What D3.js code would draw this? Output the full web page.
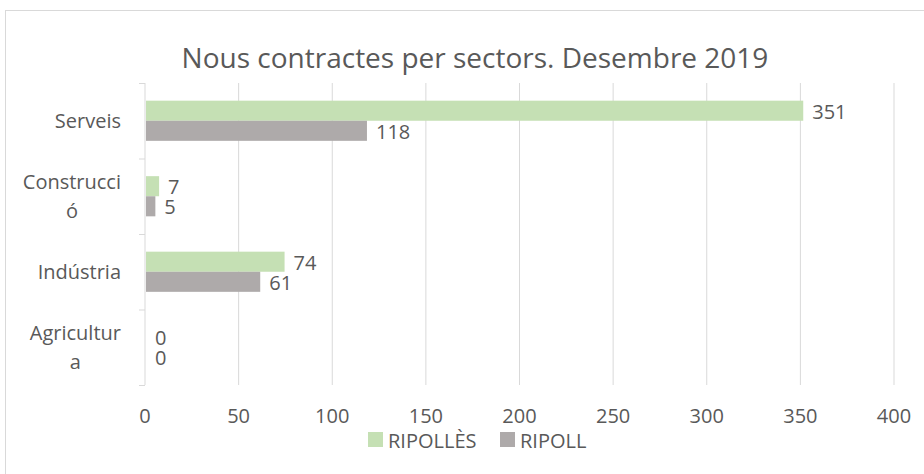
<!DOCTYPE html>
<html>
<head>
<meta charset="utf-8">
<script src="https://cdn.jsdelivr.net/npm/d3@7"></script>
<style>
  body { margin: 0; background: #fff; }
  text { font-family: "Open Sans", sans-serif; fill: #595959; }
</style>
</head>
<body>
<svg id="chart" width="924" height="474"></svg>
<script>
// data
const sectors  = ["Serveis", "Construcció", "Indústria", "Agricultura"];
const sectorLines = [["Serveis"], ["Construcci", "ó"], ["Indústria"], ["Agricultur", "a"]];
const series   = ["RIPOLLÈS", "RIPOLL"];
const ripolles = [351, 7, 74, 0];
const ripoll   = [118, 5, 61, 0];
const xTicks   = [0, 50, 100, 150, 200, 250, 300, 350, 400];
const colors   = ["#c5e0b4", "#aeaaaa"];

const svg = d3.select("#chart");

// frame
svg.append("rect")
  .attr("x", 5.5).attr("y", 10.5)
  .attr("width", 930).attr("height", 480)
  .attr("fill", "none").attr("stroke", "#d9d9d9");

const margin = { left: 145, right: 30, top: 83, bottom: 89 };
const W = 924, H = 474;

const x = d3.scaleLinear().domain([0, 400]).range([margin.left, W - margin.right]);
const y = d3.scaleBand().domain(sectors).range([margin.top, H - margin.bottom]).paddingInner(0).paddingOuter(0);
const ySub = d3.scaleBand().domain(series).range([0, y.bandwidth()]).paddingInner(0).paddingOuter(0.88);

// title
svg.append("text")
  .attr("x", 475).attr("y", 68)
  .attr("text-anchor", "middle")
  .style("font-size", "28px")
  .text("Nous contractes per sectors. Desembre 2019");

// gridlines
svg.append("g").selectAll("line")
  .data(xTicks.slice(1))
  .join("line")
    .attr("x1", d => x(d)).attr("x2", d => x(d))
    .attr("y1", margin.top).attr("y2", H - margin.bottom)
    .attr("stroke", "#d9d9d9");

// x tick labels
svg.append("g").selectAll("text")
  .data(xTicks)
  .join("text")
    .attr("x", d => x(d)).attr("y", 423)
    .attr("text-anchor", "middle")
    .style("font-size", "20px")
    .text(d => d);

// category axis
const yAxis = svg.append("g");
yAxis.append("line")
  .attr("x1", x(0)).attr("x2", x(0))
  .attr("y1", margin.top).attr("y2", H - margin.bottom)
  .attr("stroke", "#d9d9d9");
yAxis.selectAll("line.tick")
  .data(sectors.concat(["end"]))
  .join("line")
    .attr("class", "tick")
    .attr("x1", x(0) - 6).attr("x2", x(0))
    .attr("y1", (d, i) => margin.top + i * y.bandwidth() + 0.5)
    .attr("y2", (d, i) => margin.top + i * y.bandwidth() + 0.5)
    .attr("stroke", "#d9d9d9");

sectors.forEach((s, i) => {
  const lines = sectorLines[i];
  const cy = y(s) + y.bandwidth() / 2;
  const g = yAxis.append("g");
  const texts = lines.map((ln, j) => g.append("text")
    .attr("y", cy + 7 + (j - (lines.length - 1) / 2) * 29)
    .style("font-size", "20px")
    .attr("text-anchor", "middle")
    .text(ln));
  const maxW = d3.max(texts, t => t.node().getComputedTextLength());
  texts.forEach(t => t.attr("x", 121 - maxW / 2));
});

// bars
const vals = [ripolles, ripoll];
series.forEach((ser, k) => {
  const g = svg.append("g");
  g.selectAll("rect")
    .data(sectors)
    .join("rect")
      .attr("x", x(0) + 1)
      .attr("y", d => y(d) + ySub(ser))
      .attr("width", (d, i) => Math.max(0, x(vals[k][i]) - x(0)))
      .attr("height", ySub.bandwidth())
      .attr("fill", colors[k]);
  g.selectAll("text")
    .data(sectors)
    .join("text")
      .attr("x", (d, i) => x(vals[k][i]) + 10)
      .attr("y", d => y(d) + ySub(ser) + ySub.bandwidth() / 2 + 8)
      .style("font-size", "20px")
      .text((d, i) => vals[k][i]);
});

// legend
const legend = svg.append("g");
const legItems = [{ name: series[0], x: 368 }, { name: series[1], x: 500 }];
legItems.forEach((it, k) => {
  legend.append("rect")
    .attr("x", it.x).attr("y", 432)
    .attr("width", 15).attr("height", 15)
    .attr("fill", colors[k]);
  legend.append("text")
    .attr("x", it.x + 20).attr("y", 448)
    .style("font-size", "20px")
    .text(it.name);
});
</script>
</body>
</html>
